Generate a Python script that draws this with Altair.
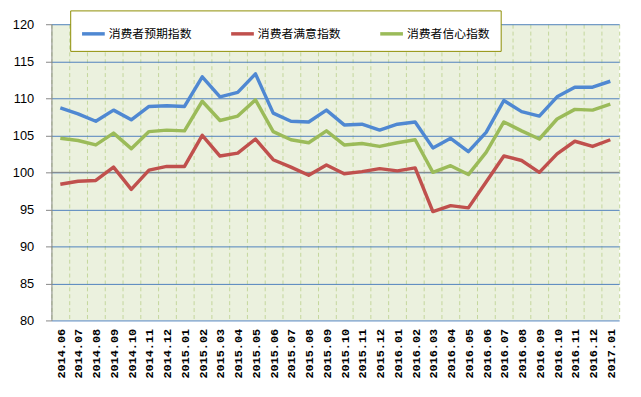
import altair as alt
import pandas as pd

months = [
    "2014.06", "2014.07", "2014.08", "2014.09", "2014.10", "2014.11", "2014.12",
    "2015.01", "2015.02", "2015.03", "2015.04", "2015.05", "2015.06", "2015.07",
    "2015.08", "2015.09", "2015.10", "2015.11", "2015.12",
    "2016.01", "2016.02", "2016.03", "2016.04", "2016.05", "2016.06", "2016.07",
    "2016.08", "2016.09", "2016.10", "2016.11", "2016.12", "2017.01",
]

series_names = ["消费者预期指数", "消费者满意指数", "消费者信心指数"]
series_colors = ["#4F88D2", "#C0504D", "#9BBB59"]

expectation = [108.7, 107.9, 106.9, 108.4, 107.1, 108.9, 109.0, 108.9, 112.9, 110.2,
               110.8, 113.3, 108.0, 106.9, 106.8, 108.4, 106.4, 106.5, 105.7, 106.5,
               106.8, 103.3, 104.6, 102.8, 105.4, 109.7, 108.2, 107.6, 110.2, 111.5,
               111.5, 112.3]
satisfaction = [98.4, 98.8, 98.9, 100.7, 97.7, 100.3, 100.8, 100.8, 105.0, 102.2,
                102.6, 104.5, 101.7, 100.7, 99.6, 101.0, 99.8, 100.1, 100.5, 100.2,
                100.6, 94.7, 95.5, 95.2, 98.7, 102.2, 101.6, 100.0, 102.5, 104.2,
                103.5, 104.4]
confidence = [104.6, 104.3, 103.7, 105.3, 103.2, 105.5, 105.7, 105.6, 109.6, 107.0,
              107.6, 109.8, 105.5, 104.4, 104.0, 105.6, 103.7, 103.9, 103.5, 104.0,
              104.4, 100.0, 100.9, 99.7, 102.7, 106.8, 105.6, 104.5, 107.2, 108.5,
              108.4, 109.2]

y_ticks = [80, 85, 90, 95, 100, 105, 110, 115, 120]
baseline = [100]

rows = []
for name, vals in zip(series_names, [expectation, satisfaction, confidence]):
    for m, v in zip(months, vals):
        rows.append({"month": m, "value": v, "series": name})
df = pd.DataFrame(rows)

x_enc = alt.X(
    "month:O",
    sort=months,
    bandPosition=0.5,
    scale=alt.Scale(type="band", paddingInner=0, paddingOuter=0),
    axis=alt.Axis(
        title=None,
        grid=True,
        gridColor="#C3D69B",
        gridDash=[4, 3],
        gridWidth=1,
        tickBand="extent",
        ticks=False,
        tickSize=0,
        domain=False,
        labelAngle=270,
        labelFont="Liberation Mono",
        labelFontWeight="bold",
        labelFontSize=12,
        labelColor="#000000",
        labelPadding=8,
    ),
)

y_scale = alt.Scale(domain=[80, 120], nice=False, zero=False)
y_axis = alt.Axis(
    title=None,
    values=y_ticks,
    labelOverlap=False,
    grid=True,
    gridColor="#4F81BD",
    gridWidth=1,
    domainColor="#868686",
    domainWidth=1,
    tickColor="#868686",
    tickSize=6,
    labelFont="Liberation Sans",
    labelFontSize=13,
    labelColor="#000000",
    labelPadding=12,
)

lines = alt.Chart(df).mark_line(strokeWidth=3.5, strokeJoin="round").encode(
    x=x_enc,
    y=alt.Y("value:Q", scale=y_scale, axis=y_axis),
    color=alt.Color(
        "series:N",
        scale=alt.Scale(domain=series_names, range=series_colors),
        legend=alt.Legend(
            title=None,
            orient="none",
            legendX=19,
            legendY=-14,
            direction="horizontal",
            fillColor="#FFFFFF",
            strokeColor="#8C8C00",
            padding=10,
            columnPadding=32,
            symbolType="stroke",
            symbolSize=529,
            symbolStrokeWidth=3.5,
            labelFont="Noto Sans CJK SC",
            labelFontSize=12,
            labelColor="#000000",
            labelOffset=2,
        ),
    ),
)

rule = alt.Chart(pd.DataFrame({"value": baseline})).mark_rule(
    color="#868686", strokeWidth=1
).encode(y=alt.Y("value:Q", scale=y_scale, axis=y_axis))

chart = alt.layer(rule, lines).properties(
    width=575,
    height=300,
    autosize=alt.AutoSizeParams(type="none"),
    padding={"left": 44, "top": 14, "right": 14, "bottom": 67},
    background="#FFFFFF",
).configure_view(fill="#EBF1DE", strokeWidth=0)

chart.save("out.html", embed_options={"renderer": "svg", "actions": False})
